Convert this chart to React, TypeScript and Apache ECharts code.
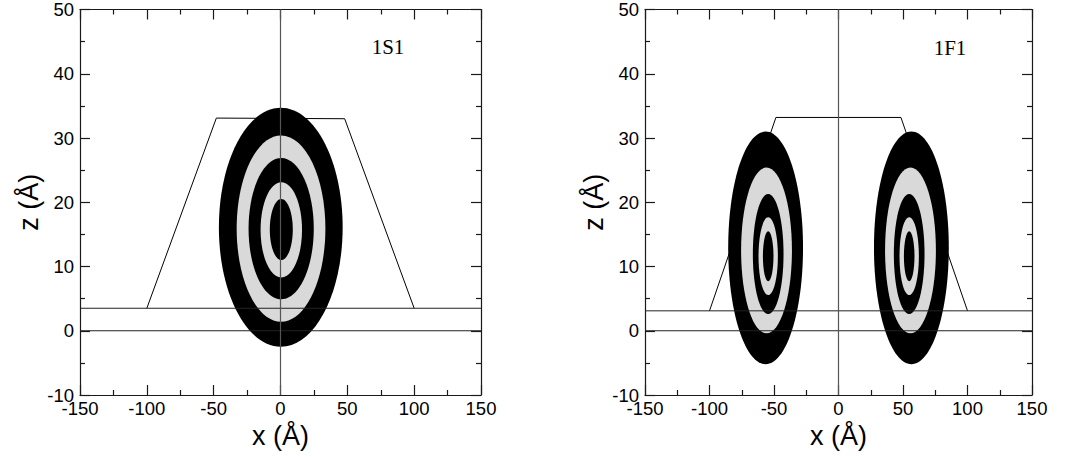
import React, { useEffect, useRef } from "react";
import * as echarts from "echarts";

// ---- data ----
const xTicks = { min: -150, max: 150, interval: 50 };
const zTicks = { min: -10, max: 50, interval: 10 };

const ringColors = ["#000000", "#d9d9d9", "#000000", "#d9d9d9", "#000000"];

// 1S1 panel: concentric ellipses (centre x, centre z, half-width, half-height)
const s1RingX = [0.2, 0.4, 0.5, 0.6, 0.6];
const s1RingZ = [16.1, 15.9, 15.9, 15.7, 15.75];
const s1RingA = [46.3, 33.2, 24.4, 15.5, 8.6];
const s1RingB = [18.6, 14.5, 11.0, 7.4, 4.75];

// 1F1 panel: two sets of concentric ellipses
const f1LeftRingX = [-56.5, -55.8, -54.5, -54.5, -54.5];
const f1RightRingX = [56.5, 55.8, 54.8, 54.8, 54.8];
const f1RingZ = [12.9, 12.5, 11.95, 11.6, 11.6];
const f1RingA = [29.0, 19.7, 11.9, 7.5, 4.1];
const f1RingB = [18.1, 12.9, 9.35, 6.05, 3.9];

// trapezoid outlines
const s1TrapX = [-100, -48, 48, 100];
const s1TrapZ = [3.5, 33.1, 33.0, 3.5];
const f1TrapX = [-100, -48.5, 48.4, 100];
const f1TrapZ = [3.1, 33.2, 33.2, 3.1];

// horizontal reference lines
const s1LevelsZ = [3.5, 0];
const f1LevelsZ = [3.1, 0];

const panelLabels = ["1S1", "1F1"];

// ---- helpers ----
const FONT = "Liberation Sans, Arial, sans-serif";
const axisColor = "#1a1a1a";

function ringData(xs: number[], zs: number[], as: number[], bs: number[]) {
  return xs.map((x, i) => ({
    value: [x, zs[i], as[i], bs[i]],
    itemStyle: { color: ringColors[i] },
  }));
}

function xAxes(gridIndex: number) {
  const line = { color: axisColor, width: 1.2 };
  const base = {
    type: "value",
    gridIndex,
    min: xTicks.min,
    max: xTicks.max,
    interval: xTicks.interval,
    splitLine: { show: false },
    axisLine: { onZero: false, lineStyle: line },
    axisTick: { inside: true, length: 10, lineStyle: line },
    minorTick: { show: true, splitNumber: 2, length: 5, lineStyle: line },
  };
  return [
    {
      ...base,
      position: "bottom",
      axisLabel: {
        fontSize: 18.5,
        color: "#000",
        fontFamily: FONT,
        margin: 4,
        showMinLabel: true,
        showMaxLabel: true,
      },
      name: "x (Å)",
      nameLocation: "middle",
      nameGap: 27,
      nameTextStyle: { fontSize: 27, color: "#000", fontFamily: FONT },
    },
    { ...base, position: "top", axisLabel: { show: false } },
  ];
}

function yAxes(gridIndex: number) {
  const line = { color: axisColor, width: 1.2 };
  const base = {
    type: "value",
    gridIndex,
    min: zTicks.min,
    max: zTicks.max,
    interval: zTicks.interval,
    splitLine: { show: false },
    axisLine: { onZero: false, lineStyle: line },
    axisTick: { inside: true, length: 10, lineStyle: line },
    minorTick: { show: true, splitNumber: 2, length: 5, lineStyle: line },
  };
  return [
    {
      ...base,
      position: "left",
      axisLabel: {
        fontSize: 18.5,
        color: "#000",
        fontFamily: FONT,
        margin: 6,
        showMinLabel: true,
        showMaxLabel: true,
      },
      name: "z (Å)",
      nameLocation: "middle",
      nameGap: 38,
      nameTextStyle: { fontSize: 27, color: "#000", fontFamily: FONT },
    },
    { ...base, position: "right", axisLabel: { show: false } },
  ];
}

function ellipseSeries(axisIdx: number, data: any[]) {
  return {
    type: "custom",
    xAxisIndex: axisIdx,
    yAxisIndex: axisIdx,
    z: 3,
    clip: true,
    renderItem: (params: any, api: any) => {
      const c = api.coord([api.value(0), api.value(1)]);
      const s = api.size([api.value(2), api.value(3)]);
      return {
        type: "ellipse",
        shape: { cx: c[0], cy: c[1], rx: s[0], ry: s[1] },
        style: { fill: api.visual("color") },
      };
    },
    data,
  };
}

function lineSeries(axisIdx: number, data: number[][], z: number, color = "#000", width = 1) {
  return {
    type: "line",
    xAxisIndex: axisIdx,
    yAxisIndex: axisIdx,
    z,
    symbol: "none",
    silent: true,
    lineStyle: { color, width },
    data,
  };
}

function panelSeries(
  axisIdx: number,
  trapX: number[],
  trapZ: number[],
  levels: number[],
  rings: any[][]
) {
  const out: any[] = [];
  out.push(lineSeries(axisIdx, trapX.map((x, i) => [x, trapZ[i]]), 2));
  rings.forEach((r) => out.push(ellipseSeries(axisIdx, r)));
  levels.forEach((lv) =>
    out.push(
      lineSeries(
        axisIdx,
        [
          [xTicks.min, lv],
          [xTicks.max, lv],
        ],
        4,
        "#222"
      )
    )
  );
  out.push(
    lineSeries(
      axisIdx,
      [
        [0, zTicks.min],
        [0, zTicks.max],
      ],
      4,
      "#555",
      1.2
    )
  );
  return out;
}

export default function App() {
  const ref = useRef<HTMLDivElement>(null);
  useEffect(() => {
    if (!ref.current) return;
    const chart = echarts.init(ref.current, null, { renderer: "svg" });
    const xa = [...xAxes(0), ...xAxes(1)];
    const ya = [...yAxes(0), ...yAxes(1)];
    const series = [
      ...panelSeries(0, s1TrapX, s1TrapZ, s1LevelsZ, [
        ringData(s1RingX, s1RingZ, s1RingA, s1RingB),
      ]),
      ...panelSeries(2, f1TrapX, f1TrapZ, f1LevelsZ, [
        ringData(f1LeftRingX, f1RingZ, f1RingA, f1RingB),
        ringData(f1RightRingX, f1RingZ, f1RingA, f1RingB),
      ]),
    ];
    chart.setOption({
      animation: false,
      backgroundColor: "#fff",
      grid: [
        { left: 80, top: 7, width: 401, height: 388 },
        { left: 645, top: 7, width: 387, height: 388 },
      ],
      xAxis: xa,
      yAxis: ya,
      graphic: [
        {
          type: "text",
          x: 388,
          y: 47,
          style: {
            text: panelLabels[0],
            font: "21px 'Liberation Serif', 'Times New Roman', serif",
            fill: "#000",
            align: "center",
            verticalAlign: "middle",
          },
        },
        {
          type: "text",
          x: 950,
          y: 48,
          style: {
            text: panelLabels[1],
            font: "21px 'Liberation Serif', 'Times New Roman', serif",
            fill: "#000",
            align: "center",
            verticalAlign: "middle",
          },
        },
      ],
      series,
    });
    return () => chart.dispose();
  }, []);
  return (
    <div
      ref={ref}
      style={{ position: "fixed", left: 0, top: 0, width: 1070, height: 457, background: "#fff" }}
    />
  );
}
